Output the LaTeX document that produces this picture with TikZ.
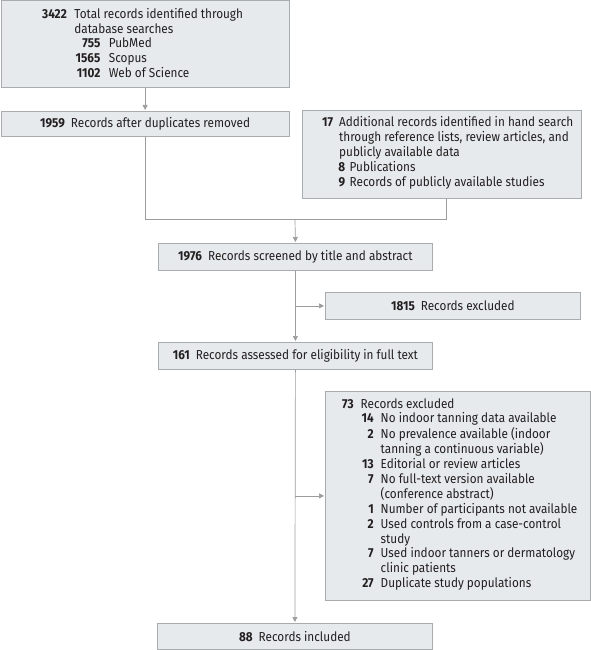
\documentclass[tikz,border=0pt]{standalone}
\usepackage{fontspec}
\setmainfont[FakeStretch=0.905]{Fira Sans}
\usetikzlibrary{arrows.meta}
\definecolor{boxfill}{HTML}{E6EAEC}
\definecolor{boxline}{HTML}{A8ACAE}
\definecolor{linecol}{HTML}{9C9C9C}
\definecolor{txt}{HTML}{231F20}
\newcommand{\sub}[4]{\makebox[#1][r]{\textbf{#2}}\hspace{#4}#3}
\tikzset{
  box/.style={draw=boxline, fill=boxfill, line width=0.8pt, inner sep=0pt, text=txt},
  lbl/.style={inner sep=0pt, text=txt, font=\fontsize{13}{14.8}\selectfont},
  conn/.style={draw=linecol, line width=0.7pt},
  arr/.style={conn, -{Triangle[length=5pt,width=5pt]}, shorten >=1pt},
}
\begin{document}
\begin{tikzpicture}[x=1pt,y=-1pt]
\useasboundingbox (0,0) rectangle (591,650);
% boxes
\node[box, anchor=north west, minimum width=288.5pt, minimum height=86.5pt] (b1) at (0.5,0.5) {};
\node[box, anchor=north west, minimum width=288.5pt, minimum height=25pt, font=\fontsize{13}{14.8}\selectfont] (b2) at (0.5,111) {\textbf{1959}\hspace{6pt}Records after duplicates removed};
\node[box, anchor=north west, minimum width=279pt, minimum height=88pt] (b3) at (302,110) {};
\node[box, anchor=north west, minimum width=274pt, minimum height=27pt, font=\fontsize{13}{14.8}\selectfont] (b4) at (158,243) {\textbf{1976}\hspace{6pt}Records screened by title and abstract};
\node[box, anchor=north west, minimum width=255pt, minimum height=27pt, font=\fontsize{13}{14.8}\selectfont] (ex1) at (325,292) {\textbf{1815}\hspace{6pt}Records excluded};
\node[box, anchor=north west, minimum width=274pt, minimum height=27pt, font=\fontsize{13}{14.8}\selectfont] (b5) at (158,342) {\textbf{161}\hspace{6pt}Records assessed for eligibility in full text};
\node[box, anchor=north west, minimum width=265pt, minimum height=209pt] (ex2) at (325,391) {};
\node[box, anchor=north west, minimum width=275pt, minimum height=26pt, font=\fontsize{13}{14.8}\selectfont] (b6) at (157,623) {\textbf{88}\hspace{6pt}Records included};
% multi-line texts
\node[lbl, anchor=base west] (t1) at (42,18.3) {\begin{tabular}[t]{@{}r@{\hspace{7.5pt}}l@{}}
\textbf{3422} & Total records identified through\\
 & database searches\\
 & \sub{26pt}{755}{PubMed}{8.5pt}\\
 & \sub{26pt}{1565}{Scopus}{8.5pt}\\
 & \sub{26pt}{1102}{Web of Science}{8.5pt}
\end{tabular}};
\node[lbl, anchor=base west] (t3) at (322,127) {\begin{tabular}[t]{@{}r@{\hspace{6pt}}l@{}}
\textbf{17} & Additional records identified in hand search\\
 & through reference lists, review articles, and\\
 & publicly available data\\
 & \sub{6pt}{8}{Publications}{4.5pt}\\
 & \sub{6pt}{9}{Records of publicly available studies}{4.5pt}
\end{tabular}};
\node[lbl, anchor=base west] (t7) at (342,408) {\begin{tabular}[t]{@{}r@{\hspace{7pt}}l@{}}
\textbf{73} & Records excluded\\
 & \sub{13pt}{14}{No indoor tanning data available}{7pt}\\
 & \sub{13pt}{2}{No prevalence available (indoor}{7pt}\\
 & \sub{13pt}{}{tanning a continuous variable)}{7pt}\\
 & \sub{13pt}{13}{Editorial or review articles}{7pt}\\
 & \sub{13pt}{7}{No full-text version available}{7pt}\\
 & \sub{13pt}{}{(conference abstract)}{7pt}\\
 & \sub{13pt}{1}{Number of participants not available}{7pt}\\
 & \sub{13pt}{2}{Used controls from a case-control}{7pt}\\
 & \sub{13pt}{}{study}{7pt}\\
 & \sub{13pt}{7}{Used indoor tanners or dermatology}{7pt}\\
 & \sub{13pt}{}{clinic patients}{7pt}\\
 & \sub{13pt}{27}{Duplicate study populations}{7pt}
\end{tabular}};
% connectors
\coordinate (j) at (295,219);
\draw[arr] (b1.south) -- (b2.north);
\draw[conn] (b2.south) |- (j);
\draw[conn] ([xshift=4.5pt]b3.south) |- (j);
\draw[arr] (j) -- (b4.north);
\draw[arr] (b4.south) -- (b5.north);
\draw[arr] (b4.south |- ex1.west) -- (ex1.west);
\draw[arr] (b5.south) -- (b6.north);
\draw[arr] (b5.south |- ex2.west) -- (ex2.west);
\end{tikzpicture}
\end{document}
